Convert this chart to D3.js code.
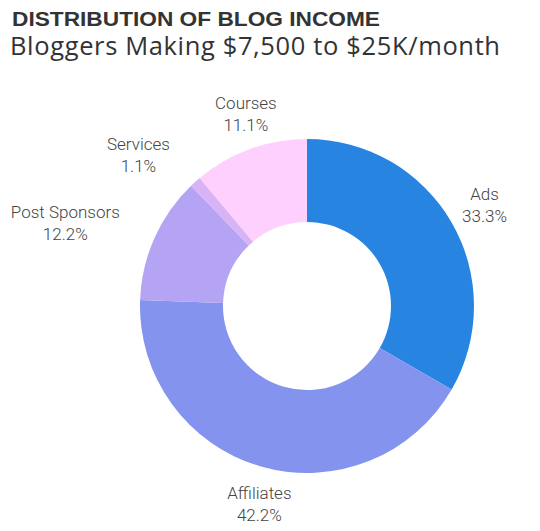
<!DOCTYPE html>
<html><head><meta charset="utf-8">
<script src="https://cdn.jsdelivr.net/npm/d3@7"></script>
<style>body{margin:0;background:#fff}</style>
</head><body>
<svg id="c" width="540" height="531"></svg>
<script>
const categories = ["Ads","Affiliates","Post Sponsors","Services","Courses"];
const values = [33.3, 42.2, 12.2, 1.1, 11.1];
const colors = ["#2784E1","#8393EE","#B5A3F4","#D8B3F6","#FDD0FD"];
const title = "DISTRIBUTION OF BLOG INCOME";
const subtitle = "Bloggers Making $7,500 to $25K/month";

const svg = d3.select("#c");
svg.append("text").attr("x",12).attr("y",26).text(title)
  .attr("font-family","Liberation Sans, Arial").attr("font-weight","bold")
  .attr("font-size",21).attr("textLength",368).attr("lengthAdjust","spacingAndGlyphs").attr("fill","#333");
svg.append("text").attr("x",10).attr("y",55).text(subtitle)
  .attr("font-family","Open Sans").attr("font-size",25.5)
  .attr("textLength",490).attr("lengthAdjust","spacing").attr("fill","#333");

const cx = 307, cy = 306, R = 167, r = 84, LR = 205;
const data = categories.map((c,i)=>({cat:c,val:values[i],col:colors[i]}));
const pie = d3.pie().value(d=>d.val).sort(null);
const arc = d3.arc().innerRadius(r).outerRadius(R);
const g = svg.append("g").attr("transform",`translate(${cx},${cy})`);
const arcs = pie(data);
g.selectAll("path").data(arcs).join("path").attr("d",arc).attr("fill",d=>d.data.col);

const lab = g.selectAll("g.l").data(arcs).join("g").attr("class","l");
lab.each(function(d){
  const a = (d.startAngle+d.endAngle)/2;
  let x = LR*Math.sin(a), y = -LR*Math.cos(a);
  const t = d3.select(this).append("text").attr("text-anchor","middle")
    .attr("font-family","Roboto").attr("font-weight",300).attr("font-size",17).attr("fill","#444");
  t.append("tspan").attr("x",0).attr("dy",0).text(d.data.cat);
  t.append("tspan").attr("x",0).attr("dy",22).text(d3.format(".1f")(d.data.val)+"%");
  const w = t.node().getBBox().width;
  if (Math.sin(a) < -0.5) x -= w/2;
  else if (Math.sin(a) < 0) x += 9;
  d3.select(this).attr("transform",`translate(${x},${y-4})`);
});
</script>
</body></html>
